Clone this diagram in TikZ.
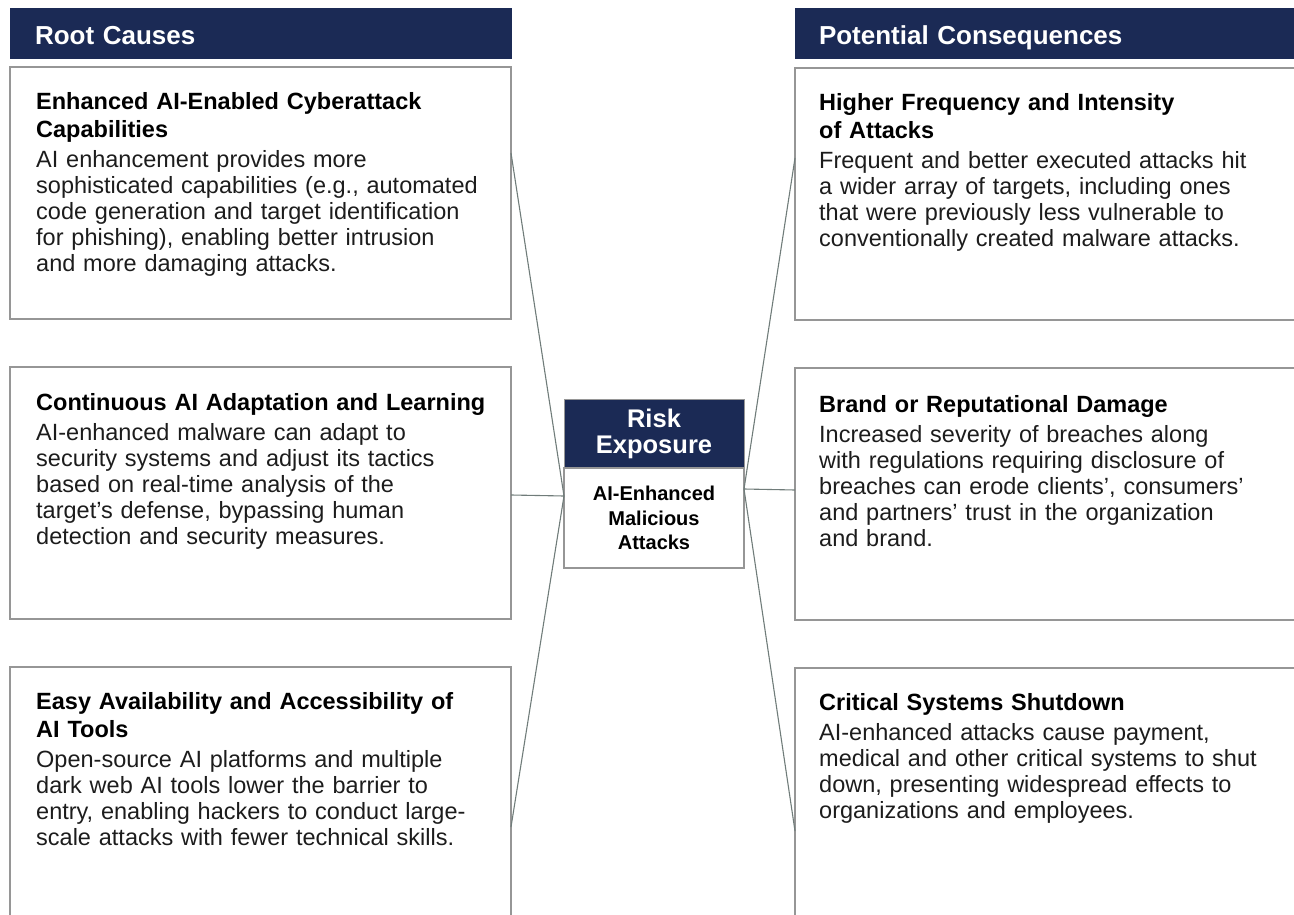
\documentclass[tikz,border=0pt]{standalone}
\usepackage{fontspec}
\setmainfont{Liberation Sans}
\usepackage{xcolor}
\usetikzlibrary{positioning}
\definecolor{navy}{RGB}{27,42,85}
\definecolor{boxgray}{RGB}{150,150,150}
\definecolor{linkgray}{RGB}{112,124,122}
\definecolor{bodyink}{RGB}{28,28,28}
\tikzset{
    headbar/.style={rectangle, fill=navy, draw=navy, text=white, minimum height=50pt, align=left, inner xsep=25pt, anchor=north west, outer sep=0pt, text height=24pt, text depth=0pt, font=\fontsize{26}{30}\selectfont\bfseries},
    itembox/.style={rectangle, draw=boxgray, line width=1.2pt, minimum height=252pt, inner sep=0pt, outer sep=0pt, anchor=north west},
    itemtitle/.style={anchor=north west, inner sep=0pt, text width=470pt, align=left, font=\fontsize{23.5}{28}\selectfont\bfseries, execute at begin node=\strut, execute at end node=\strut},
    itembody/.style={inner sep=0pt, text width=470pt, align=left, text=bodyink, font=\fontsize{23.5}{26}\selectfont, execute at begin node=\strut, execute at end node=\strut},
    riskhead/.style={rectangle, fill=navy, draw=boxgray, line width=1pt, text=white, minimum width=180pt, minimum height=69pt, inner sep=0pt, outer sep=0pt, align=center, anchor=north west, font=\fontsize{25.5}{26}\selectfont\bfseries},
    threatbox/.style={rectangle, fill=white, draw=boxgray, line width=1.2pt, minimum width=180pt, minimum height=100pt, inner sep=0pt, outer sep=0pt, align=center, font=\fontsize{20}{24.5}\selectfont\bfseries},
    link/.style={draw=linkgray, line width=1.1pt},
}

\begin{document}
\begin{tikzpicture}[x=1pt, y=1pt]
    \clip (0,0) rectangle (1294,-915);

    % root causes
    \node[headbar, text width=451pt] (causes) at (10,-8) {Root Causes};
    \node[itembox, minimum width=501pt] (c1) at (10,-67) {};
    \node[itembox, minimum width=501pt, below=48pt of c1] (c2) {};
    \node[itembox, minimum width=501pt, minimum height=300pt, below=48pt of c2] (c3) {};

    \node[itemtitle] (c1t) at ([shift={(26,-23)}]c1.north west) {Enhanced AI-Enabled Cyberattack\\Capabilities};
    \node[itembody, below=3pt of c1t] (c1b) {AI enhancement provides more\\sophisticated capabilities (e.g., automated\\code generation and target identification\\for phishing), enabling better intrusion\\and more damaging attacks.};
    \node[itemtitle] (c2t) at ([shift={(26,-24)}]c2.north west) {Continuous AI Adaptation and Learning};
    \node[itembody, below=3pt of c2t] (c2b) {AI-enhanced malware can adapt to\\security systems and adjust its tactics\\based on real-time analysis of the\\target’s defense, bypassing human\\detection and security measures.};
    \node[itemtitle] (c3t) at ([shift={(26,-23)}]c3.north west) {Easy Availability and Accessibility of\\AI Tools};
    \node[itembody, below=3pt of c3t] (c3b) {Open-source AI platforms and multiple\\dark web AI tools lower the barrier to\\entry, enabling hackers to conduct large-\\scale attacks with fewer technical skills.};

    % potential consequences
    \node[headbar, text width=462pt, inner xsep=24pt] (effects) at (795,-8) {Potential Consequences};
    \node[itembox, minimum width=510pt] (r1) at (795,-68) {};
    \node[itembox, minimum width=510pt, below=48pt of r1] (r2) {};
    \node[itembox, minimum width=510pt, minimum height=300pt, below=48pt of r2] (r3) {};

    \node[itemtitle] (r1t) at ([shift={(24,-23)}]r1.north west) {Higher Frequency and Intensity\\of Attacks};
    \node[itembody, below=3pt of r1t] (r1b) {Frequent and better executed attacks hit\\a wider array of targets, including ones\\that were previously less vulnerable to\\conventionally created malware attacks.};
    \node[itemtitle] (r2t) at ([shift={(24,-25)}]r2.north west) {Brand or Reputational Damage};
    \node[itembody, below=3pt of r2t] (r2b) {Increased severity of breaches along\\with regulations requiring disclosure of\\breaches can erode clients’, consumers’\\and partners’ trust in the organization\\and brand.};
    \node[itemtitle] (r3t) at ([shift={(24,-23)}]r3.north west) {Critical Systems Shutdown};
    \node[itembody, below=3pt of r3t] (r3b) {AI-enhanced attacks cause payment,\\medical and other critical systems to shut\\down, presenting widespread effects to\\organizations and employees.};

    % risk exposure
    \node[riskhead] (risk) at (564,-399) {Risk\\Exposure};
    \node[threatbox, below=0pt of risk] (threat) {AI-Enhanced\\Malicious\\Attacks};

    \coordinate (inL) at ([yshift=22pt]threat.west);
    \coordinate (inR) at ([yshift=29pt]threat.east);
    \draw[link] ([yshift=-86pt]c1.north east) -- (inL);
    \draw[link] ([yshift=-128pt]c2.north east) -- (inL);
    \draw[link] ([yshift=-160pt]c3.north east) -- (inL);
    \draw[link] ([yshift=-90pt]r1.north west) -- (inR);
    \draw[link] ([yshift=-122pt]r2.north west) -- (inR);
    \draw[link] ([yshift=-163pt]r3.north west) -- (inR);
\end{tikzpicture}
\end{document}
